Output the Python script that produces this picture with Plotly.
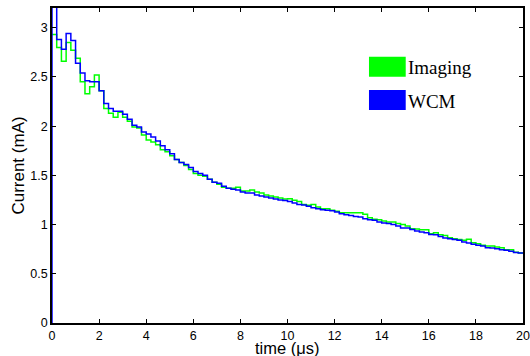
import numpy as np
import plotly.graph_objects as go

# time bins (start of each 0.2 us bin)
bin_width = 0.2
t_start = np.round(np.arange(0, 20, bin_width), 3).tolist()

imaging = [2.93, 2.80, 2.66, 2.85, 2.77, 2.69, 2.45, 2.33, 2.40, 2.52,
           2.36, 2.18, 2.13, 2.09, 2.14, 2.09, 2.05, 1.99, 1.98, 1.91,
           1.86, 1.84, 1.81, 1.76, 1.74, 1.70, 1.66, 1.63, 1.60, 1.56,
           1.52, 1.50, 1.49, 1.46, 1.43, 1.41, 1.38, 1.37, 1.37, 1.38,
           1.34, 1.34, 1.35, 1.33, 1.32, 1.30, 1.29, 1.28, 1.27, 1.26,
           1.263, 1.246, 1.235, 1.205, 1.195, 1.205, 1.178, 1.16, 1.16, 1.145,
           1.135, 1.12, 1.12, 1.12, 1.12, 1.12, 1.104, 1.07, 1.055, 1.05,
           1.035, 1.025, 1.025, 1.01, 1.0, 0.985, 0.958, 0.955, 0.948, 0.948,
           0.907, 0.917, 0.897, 0.89, 0.866, 0.856, 0.847, 0.84, 0.85, 0.815,
           0.805, 0.789, 0.782, 0.782, 0.772, 0.765, 0.745, 0.745, 0.72, 0.712]

wcm = [3.60, 2.88, 2.78, 2.94, 2.87, 2.64, 2.54, 2.46, 2.45, 2.45,
       2.36, 2.23, 2.18, 2.15, 2.15, 2.12, 2.07, 2.01, 1.99, 1.94,
       1.92, 1.89, 1.85, 1.80, 1.76, 1.72, 1.66, 1.63, 1.61, 1.58,
       1.54, 1.52, 1.50, 1.46, 1.43, 1.42, 1.39, 1.37, 1.36, 1.35,
       1.33, 1.32, 1.32, 1.30, 1.29, 1.28, 1.27, 1.26, 1.25, 1.245,
       1.235, 1.22, 1.205, 1.20, 1.185, 1.17, 1.16, 1.15, 1.145, 1.14,
       1.127, 1.11, 1.10, 1.093, 1.083, 1.076, 1.06, 1.05, 1.043, 1.025,
       1.015, 1.01, 1.0, 0.985, 0.965, 0.965, 0.951, 0.934, 0.924, 0.917,
       0.90, 0.897, 0.88, 0.863, 0.856, 0.847, 0.84, 0.822, 0.812, 0.80,
       0.789, 0.782, 0.765, 0.762, 0.755, 0.745, 0.738, 0.728, 0.715, 0.712]

x_ticks = [0, 2, 4, 6, 8, 10, 12, 14, 16, 18, 20]
x_tick_text = ["0", "2", "4", "6", "8", "10", "12", "14", "16", "18", "20"]
y_ticks = [0, 0.5, 1, 1.5, 2, 2.5, 3]
y_tick_text = ["0", "0.5", "1", "1.5", "2", "2.5", "3"]

t_end = t_start[-1] + bin_width
x_img = t_start + [t_end]
y_img = imaging + [imaging[-1]]
x_wcm = [0] + t_start + [t_end]
y_wcm = [0] + wcm + [wcm[-1]]

fig = go.Figure()
fig.add_trace(go.Scatter(x=x_img, y=y_img, mode="lines", line_shape="hv",
                         line=dict(color="#00ff00", width=1.5), name="Imaging"))
fig.add_trace(go.Scatter(x=x_wcm, y=y_wcm, mode="lines", line_shape="hv",
                         line=dict(color="#0000ff", width=1.5), name="WCM"))

axis_font = dict(family="Liberation Sans, Arial, sans-serif", size=12.5, color="black")
fig.update_layout(
    width=530, height=356,
    margin=dict(l=52, r=7, t=8, b=33, autoexpand=False),
    plot_bgcolor="white", paper_bgcolor="white",
    showlegend=False,
    font=axis_font,
)
fig.update_xaxes(range=[0, 20], tickvals=x_ticks, ticktext=x_tick_text, ticks="inside",
                 ticklen=4, tickcolor="black", showline=True, linecolor="black",
                 linewidth=1.5, mirror="ticks", showgrid=False, zeroline=False,
                 tickfont=axis_font, ticklabeloverflow="allow", automargin=False)
fig.update_yaxes(range=[0, 3.2], tickvals=y_ticks, ticktext=y_tick_text,
                 ticks="inside", ticklen=4, tickcolor="black", showline=True,
                 linecolor="black", linewidth=1.5, mirror="ticks", showgrid=False,
                 zeroline=False, tickfont=axis_font, ticklabeloverflow="allow",
                 automargin=False)

# axis titles
fig.add_annotation(text="time (\u03bcs)", xref="paper", yref="paper", x=0.499, y=-0.08,
                   yanchor="middle", showarrow=False,
                   font=dict(family="Liberation Sans, Arial, sans-serif", size=16.5, color="black"))
fig.add_annotation(text="Current (mA)", xref="paper", yref="paper", x=-0.072, y=0.5,
                   xanchor="center", yanchor="middle", textangle=-90, showarrow=False,
                   font=dict(family="Liberation Sans, Arial, sans-serif", size=17, color="black"))

# legend drawn as patches
legend_font = dict(family="Liberation Serif, Times New Roman, serif", size=19, color="black")
fig.add_shape(type="rect", xref="paper", yref="paper", x0=0.673, x1=0.751, y0=0.782, y1=0.845,
              fillcolor="#00ff00", line=dict(width=0))
fig.add_shape(type="rect", xref="paper", yref="paper", x0=0.673, x1=0.751, y0=0.676, y1=0.740,
              fillcolor="#0000ff", line=dict(width=0))
fig.add_annotation(text="Imaging", xref="paper", yref="paper", x=0.752, y=0.81,
                   xanchor="left", yanchor="middle", showarrow=False, font=legend_font)
fig.add_annotation(text="WCM", xref="paper", yref="paper", x=0.752, y=0.704,
                   xanchor="left", yanchor="middle", showarrow=False, font=legend_font)

fig.write_html("out.html", config={"displayModeBar": False},
               post_script="document.body.style.margin='0';document.body.style.overflow='hidden';")
